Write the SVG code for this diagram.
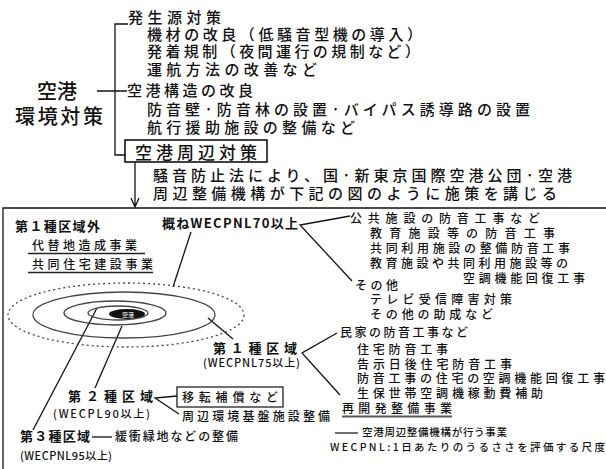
<svg xmlns="http://www.w3.org/2000/svg" width="606" height="469" viewBox="0 0 606 469">
<style>
text{font-family:"Noto Sans CJK JP","Noto Sans CJK SC",sans-serif;fill:#111;}
.t16{font-size:15px;font-weight:500;}
.t20{font-size:20px;font-weight:500;}
.t17{font-size:17px;font-weight:500;}
.b13{font-size:13px;font-weight:700;}
.m13{font-size:12px;font-weight:500;}
.s12{font-size:11px;font-weight:500;}
.s11{font-size:10.5px;font-weight:500;}
.ln{stroke:#111;stroke-width:1.3;fill:none;}
.ring{stroke:#444;stroke-width:1.3;fill:none;}
.ul{stroke:#222;stroke-width:1.3;}
</style>
<rect width="606" height="469" fill="#fff"/>

<g id="connectors">
  <path class="ln" d="M97,91 H127 M128,24 H115 V155 H125"/>
  <path class="ln" d="M135,162 V207 M131,198 L135,207 L139,198"/>
  <path class="ln" d="M3,469 V208 H606" stroke-width="2"/>
  <path class="ln" d="M191,232 L173,287"/>
  <path class="ln" d="M350,216 L300,225 L352,281"/>
  <path class="ln" d="M337,333 L302,353 L340,395"/>
  <path class="ln" d="M208,318 L233,339"/>
  <path class="ln" d="M122,326 L95,388"/>
  <path class="ln" d="M97,308 L33,430"/>
  <path class="ln" d="M177,396 L155,398 L179,414"/>
  <path class="ln" d="M92,437 H112"/>
</g>

<g id="top-tree">
  <g id="root"><text class="t20" x="37" y="99" textLength="40" lengthAdjust="spacing">空港</text>
  <text class="t20" x="15" y="124" textLength="88" lengthAdjust="spacing">環境対策</text></g>
  <g id="source"><text class="t16" x="128" y="23" textLength="93" lengthAdjust="spacing">発生源対策</text>
  <text class="t16" x="147" y="40" textLength="275" lengthAdjust="spacing">機材の改良（低騒音型機の導入）</text>
  <text class="t16" x="147" y="57" textLength="273" lengthAdjust="spacing">発着規制（夜間運行の規制など）</text>
  <text class="t16" x="147" y="75" textLength="170" lengthAdjust="spacing">運航方法の改善など</text></g>
  <g id="structure"><text class="t16" x="127" y="96" textLength="126" lengthAdjust="spacing">空港構造の改良</text>
  <text class="t16" x="147" y="115" textLength="383" lengthAdjust="spacing">防音壁·防音林の設置·バイパス誘導路の設置</text>
  <text class="t16" x="147" y="133" textLength="208" lengthAdjust="spacing">航行援助施設の整備など</text></g>
  <g id="surround"><rect x="125" y="140" width="142" height="22" fill="none" stroke="#111" stroke-width="1.6"/>
  <text class="t17" x="135" y="159" textLength="122" lengthAdjust="spacing">空港周辺対策</text>
  <text class="t16" x="153" y="181" textLength="419" lengthAdjust="spacing">騒音防止法により、国·新東京国際空港公団·空港</text>
  <text class="t16" x="153" y="199" textLength="404" lengthAdjust="spacing">周辺整備機構が下記の図のように施策を講じる</text></g>
</g>

<g id="zones">
  <ellipse class="ring" cx="126" cy="315" rx="118" ry="32" stroke-dasharray="2,3"/>
  <ellipse class="ring" cx="124" cy="315" rx="91" ry="23"/>
  <ellipse class="ring" cx="115" cy="313" rx="51" ry="12"/>
  <ellipse class="ring" cx="118" cy="313" rx="30" ry="7"/>
  <ellipse cx="127" cy="314" rx="18" ry="5" fill="#111"/>
  <text x="122" y="316.5" style="font-size:6px;fill:#fff">空港</text>
</g>

<g id="outside1">
  <text class="b13" x="15" y="231" textLength="85" lengthAdjust="spacing">第１種区域外</text>
  <text class="m13" x="32" y="250" textLength="105" lengthAdjust="spacing">代替地造成事業</text>
  <line class="ul" x1="28" y1="253.5" x2="145" y2="253.5"/>
  <text class="m13" x="32" y="269" textLength="121" lengthAdjust="spacing">共同住宅建設事業</text>
  <line class="ul" x1="28" y1="272.5" x2="153" y2="272.5"/>
</g>

<g id="wecpnl70">
  <text class="b13" x="162" y="228" textLength="136" lengthAdjust="spacing">概ねWECPNL70以上</text>
  <text class="m13" x="350" y="223" textLength="190" lengthAdjust="spacing">公共施設の防音工事など</text>
  <text class="m13" x="370" y="238" textLength="185" lengthAdjust="spacing">教育施設等の防音工事</text>
  <text class="m13" x="370" y="253" textLength="200" lengthAdjust="spacing">共同利用施設の整備防音工事</text>
  <text class="m13" x="370" y="268" textLength="198" lengthAdjust="spacing">教育施設や共同利用施設等の</text>
  <text class="m13" x="463" y="283" textLength="122" lengthAdjust="spacing">空調機能回復工事</text>
  <text class="m13" x="355" y="290" textLength="43" lengthAdjust="spacing">その他</text>
  <text class="m13" x="370" y="304" textLength="142" lengthAdjust="spacing">テレビ受信障害対策</text>
  <text class="m13" x="370" y="319" textLength="123" lengthAdjust="spacing">その他の助成など</text>
</g>

<g id="zone1">
  <text class="b13" x="213" y="353" textLength="84" lengthAdjust="spacing">第１種区域</text>
  <text class="s12" x="203" y="367" textLength="97" lengthAdjust="spacing">(WECPNL75以上)</text>
  <text class="m13" x="340" y="337" textLength="128" lengthAdjust="spacing">民家の防音工事など</text>
  <text class="m13" x="357" y="354" textLength="91" lengthAdjust="spacing">住宅防音工事</text>
  <text class="m13" x="357" y="369" textLength="155" lengthAdjust="spacing">告示日後住宅防音工事</text>
  <text class="m13" x="357" y="383" textLength="248" lengthAdjust="spacing">防音工事の住宅の空調機能回復工事</text>
  <text class="m13" x="357" y="398" textLength="186" lengthAdjust="spacing">生保世帯空調機稼動費補助</text>
  <text class="m13" x="342" y="413" textLength="110" lengthAdjust="spacing">再開発整備事業</text>
  <line x1="342" y1="416.5" x2="452" y2="416.5" stroke="#555" stroke-width="2"/>
</g>

<g id="zone2">
  <text class="b13" x="68" y="401" textLength="85" lengthAdjust="spacing">第２種区域</text>
  <text class="s12" x="53" y="418" textLength="97" lengthAdjust="spacing">(WECPL90以上)</text>
  <rect x="177" y="387" width="106" height="20" fill="none" stroke="#222" stroke-width="1.3"/>
  <text class="m13" x="182" y="402" textLength="96" lengthAdjust="spacing">移転補償など</text>
  <text class="m13" x="182" y="421" textLength="148" lengthAdjust="spacing">周辺環境基盤施設整備</text>
</g>

<g id="zone3">
  <text class="b13" x="20" y="441" textLength="70" lengthAdjust="spacing">第３種区域</text>
  <text class="m13" x="115" y="441" textLength="123" lengthAdjust="spacing">緩衝緑地などの整備</text>
  <text class="s12" x="20" y="460" textLength="92" lengthAdjust="spacing">(WECPNL95以上)</text>
</g>

<g id="legend">
  <line class="ul" x1="335" y1="433" x2="358" y2="433"/>
  <text class="s11" x="362" y="436" textLength="145" lengthAdjust="spacing">空港周辺整備機構が行う事業</text>
  <text class="s11" x="330" y="451" textLength="275" lengthAdjust="spacing">WECPNL:1日あたりのうるささを評価する尺度</text>
</g>
</svg>
